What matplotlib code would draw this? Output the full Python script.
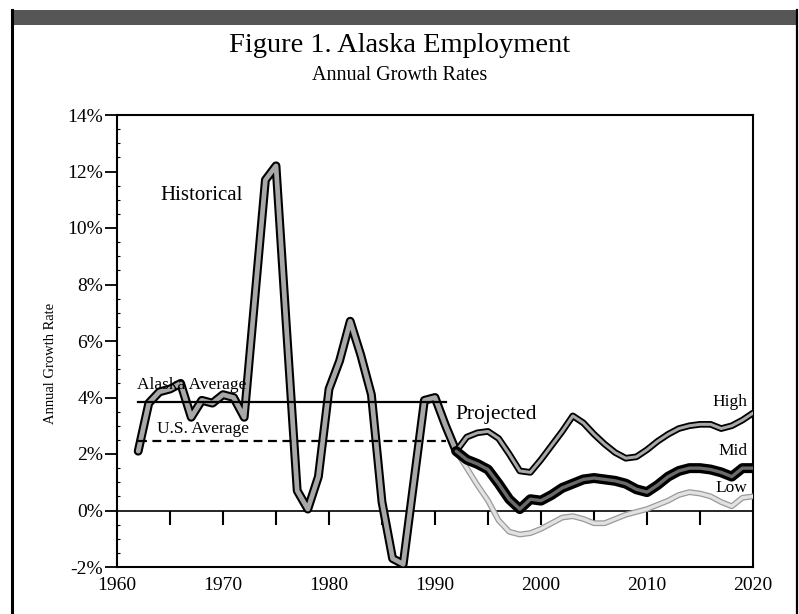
import matplotlib
matplotlib.use("Agg")
import matplotlib.pyplot as plt
import matplotlib.patheffects as pe
from matplotlib.patches import Rectangle

# historical annual growth rates (%), 1962-1992
hist_years = list(range(1962, 1993))
hist_rates = [2.1, 3.8, 4.2, 4.3, 4.5, 3.3, 3.9, 3.8, 4.1, 4.0, 3.3,
              7.5, 11.7, 12.2, 6.4, 0.7, 0.05, 1.2, 4.3, 5.3, 6.7,
              5.5, 4.1, 0.3, -1.7, -1.9, 1.0, 3.9, 4.0, 3.0, 2.1]

# projections, 1992-2020
proj_years = list(range(1992, 2021))
high = [2.1, 2.6, 2.75, 2.8, 2.55, 2.0, 1.4, 1.35, 1.8, 2.3, 2.8, 3.35,
        3.1, 2.7, 2.35, 2.05, 1.85, 1.9, 2.15, 2.45, 2.7, 2.9, 3.0, 3.05,
        3.05, 2.9, 3.0, 3.2, 3.45]
mid = [2.1, 1.8, 1.65, 1.45, 0.95, 0.4, 0.05, 0.4, 0.35, 0.55, 0.8, 0.95,
       1.1, 1.15, 1.1, 1.05, 0.95, 0.75, 0.65, 0.9, 1.2, 1.4, 1.5, 1.5,
       1.45, 1.35, 1.2, 1.5, 1.5]
low = [2.1, 1.5, 0.9, 0.35, -0.35, -0.75, -0.85, -0.8, -0.65, -0.45, -0.25,
       -0.2, -0.3, -0.45, -0.45, -0.3, -0.15, -0.05, 0.05, 0.2, 0.35, 0.55,
       0.65, 0.6, 0.5, 0.3, 0.15, 0.45, 0.5]

# averages over the historical period
avg_span = [1962, 1991]
alaska_avg = 3.83
us_avg = 2.47

year_ticks = [1960, 1970, 1980, 1990, 2000, 2010, 2020]
minor_year_ticks = [1965, 1970, 1975, 1980, 1985, 1990, 1995, 2000, 2005, 2010, 2015]
rate_ticks = [-2, 0, 2, 4, 6, 8, 10, 12, 14]
rate_labels = ["-2%", "0%", "2%", "4%", "6%", "8%", "10%", "12%", "14%"]

plt.rcParams["font.family"] = ["Liberation Serif", "DejaVu Serif"]


def outlined(ax, x, y, inner, inner_w, outer, outer_w, z):
    ax.plot(x, y, color=inner, lw=inner_w, zorder=z,
            solid_joinstyle="round", solid_capstyle="round",
            path_effects=[pe.Stroke(linewidth=outer_w, foreground=outer,
                                    joinstyle="round", capstyle="round"),
                          pe.Normal()])


fig = plt.figure(figsize=(7.99, 6.14), dpi=100)

# page frame: dark band on top, border lines on the sides
fig.patches.append(Rectangle((11 / 799, 1 - 25 / 614), 787 / 799, 15 / 614,
                             transform=fig.transFigure, facecolor="#565656",
                             edgecolor="none"))
fig.add_artist(plt.Line2D([12 / 799, 12 / 799], [0, 1 - 10 / 614],
                          transform=fig.transFigure, color="black", lw=2.2))
fig.add_artist(plt.Line2D([797 / 799, 797 / 799], [0, 1 - 10 / 614],
                          transform=fig.transFigure, color="black", lw=1.6))

fig.text(0.5, 1 - 45 / 614, "Figure 1. Alaska Employment", ha="center",
         va="center", fontsize=20.5)
fig.text(0.5, 1 - 76 / 614, "Annual Growth Rates", ha="center",
         va="center", fontsize=14.5)

ax = fig.add_axes([117 / 799, 1 - 567 / 614, 636 / 799, 452 / 614])
ax.set_xlim(1960, 2020)
ax.set_ylim(-2, 14)

for s in ax.spines.values():
    s.set_linewidth(1.5)

ax.set_yticks(rate_ticks)
ax.set_yticklabels(rate_labels, fontsize=14)
ax.set_yticks([v / 2 for v in range(-4, 29)], minor=True)
ax.tick_params(axis="y", which="major", direction="out", length=9, width=1.3, pad=1)
ax.tick_params(axis="y", which="minor", direction="in", length=2.5, width=0.8)

ax.set_xticks(year_ticks)
ax.set_xticklabels([str(y) for y in year_ticks], fontsize=14)
ax.tick_params(axis="x", length=0, pad=7)

fig.text(50 / 799, 1 - 363 / 614, "Annual Growth Rate", rotation=90,
         ha="center", va="center", fontsize=10.5)

# zero line with its own downward ticks
ax.axhline(0, color="black", lw=1.2, zorder=2)
ax.vlines(minor_year_ticks, -0.53, 0, color="black", lw=1.5, zorder=2)

# historical series
outlined(ax, hist_years, hist_rates, "#a8a8a8", 3.4, "black", 6.4, 3)

# projections
outlined(ax, proj_years, low, "#e2e2e2", 2.4, "#9a9a9a", 4.2, 3)
outlined(ax, proj_years, high, "#a8a8a8", 2.2, "black", 4.8, 4)
outlined(ax, proj_years, mid, "#6a6a6a", 2.4, "black", 7.2, 5)

# average lines
ax.plot(avg_span, [alaska_avg, alaska_avg], color="black", lw=1.6, zorder=6)
ax.plot(avg_span, [us_avg, us_avg], color="black", lw=1.6, ls=(0, (4, 2.5)), zorder=6)

# labels
ax.text(1961.9, 4.45, "Alaska Average", fontsize=12.5, va="center", zorder=7)
ax.text(1963.8, 2.9, "U.S. Average", fontsize=12.5, va="center", zorder=7)
ax.text(1968.0, 11.15, "Historical", fontsize=15, ha="center", va="center")
ax.text(1991.9, 3.4, "Projected", fontsize=15.5, va="center")
ax.text(2019.5, 3.85, "High", fontsize=12.5, ha="right", va="center")
ax.text(2019.5, 2.1, "Mid", fontsize=12.5, ha="right", va="center")
ax.text(2019.5, 0.8, "Low", fontsize=12.5, ha="right", va="center")

fig.savefig("out.png", dpi=100)
